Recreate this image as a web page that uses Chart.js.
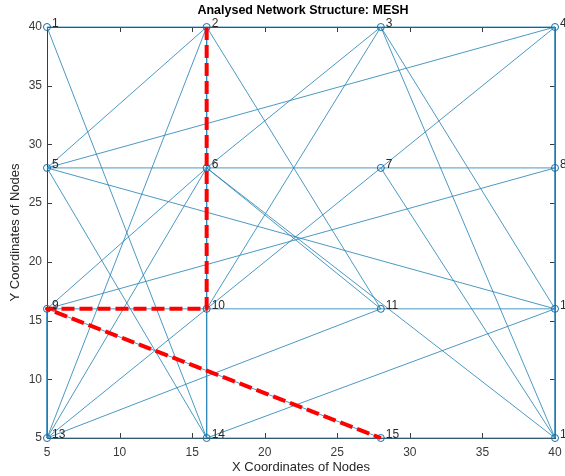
<!DOCTYPE html>
<html>
<head>
<meta charset="utf-8">
<script src="https://cdn.jsdelivr.net/npm/chart.js@4"></script>
<style>
  html, body { margin: 0; padding: 0; background: #ffffff; }
  #wrap { width: 565px; height: 476px; position: relative; }
</style>
</head>
<body>
<div id="wrap"><canvas id="c" width="565" height="476"></canvas></div>
<script>
// Node layout of the 4x4 mesh (x, y coordinates)
const nodeNames = ['1','2','3','4','5','6','7','8','9','10','11','12','13','14','15','16'];
const nodeX = [5, 16, 28, 40, 5, 16, 28, 40, 5, 16, 28, 40, 5, 16, 28, 40];
const nodeY = [40, 40, 40, 40, 28, 28, 28, 28, 16, 16, 16, 16, 5, 5, 5, 5];

// Links between nodes (1-based node numbers)
const edgeFrom = [1, 2, 3, 5, 6, 7, 9, 10, 11, 13, 14, 15, 4, 8, 12, 9, 2, 6, 10,
                  1, 2, 2, 2, 3, 3, 3, 3, 4, 4, 7, 10, 5, 5, 6, 6, 6, 6, 7, 9, 13, 14, 9];
const edgeTo   = [2, 3, 4, 6, 7, 8, 10, 11, 12, 14, 15, 16, 8, 12, 16, 13, 6, 10, 14,
                  14, 5, 13, 11, 6, 10, 12, 16, 5, 7, 10, 13, 12, 14, 9, 13, 11, 16, 16, 8, 11, 12, 15];

// Highlighted route through the network
const routeNodes = [2, 6, 10, 9, 15];

// Axis ticks
const xTicks = [5, 10, 15, 20, 25, 30, 35, 40];
const yTicks = [5, 10, 15, 20, 25, 30, 35, 40];

const FONT = "'Liberation Sans', Arial, Helvetica, sans-serif";
const EDGE_COLOR = 'rgba(45, 135, 185, 0.85)';
const AXIS_COLOR = '#3a3a3a';

const pt = n => ({ x: nodeX[n - 1], y: nodeY[n - 1] });

const edgeSets = edgeFrom.map((a, i) => ({
  type: 'line',
  data: [pt(a), pt(edgeTo[i])],
  borderColor: EDGE_COLOR,
  borderWidth: 1,
  pointRadius: 0,
  fill: false,
  clip: false,
  order: 3
}));

const nodeSet = {
  type: 'scatter',
  data: nodeX.map((x, i) => ({ x, y: nodeY[i] })),
  pointStyle: 'circle',
  pointRadius: 3.5,
  borderColor: 'rgba(20, 110, 170, 1)',
  backgroundColor: 'rgba(255,255,255,0)',
  pointBorderWidth: 1,
  clip: false,
  order: 2
};

const routeSet = {
  type: 'line',
  data: routeNodes.map(pt),
  borderColor: '#ff0000',
  borderWidth: 4,
  borderDash: [13, 5],
  borderJoinStyle: 'round',
  pointRadius: 0,
  fill: false,
  clip: false,
  order: 1
};

// Axes box with inward tick marks, drawn under the network
const boxPlugin = {
  id: 'box',
  beforeDatasetsDraw(chart) {
    const { ctx, chartArea: a, scales } = chart;
    ctx.save();
    ctx.strokeStyle = AXIS_COLOR;
    ctx.lineWidth = 1;
    ctx.strokeRect(a.left + 0.5, a.top + 0.5, a.right - a.left, a.bottom - a.top);
    const L = 5;
    ctx.beginPath();
    xTicks.forEach(v => {
      const px = Math.round(scales.x.getPixelForValue(v)) + 0.5;
      ctx.moveTo(px, a.bottom); ctx.lineTo(px, a.bottom - L);
      ctx.moveTo(px, a.top); ctx.lineTo(px, a.top + L);
    });
    yTicks.forEach(v => {
      const py = Math.round(scales.y.getPixelForValue(v)) + 0.5;
      ctx.moveTo(a.left, py); ctx.lineTo(a.left + L, py);
      ctx.moveTo(a.right, py); ctx.lineTo(a.right - L, py);
    });
    ctx.stroke();
    ctx.restore();
  },
  afterDraw(chart) {
    const { ctx, chartArea: a, scales } = chart;
    ctx.save();
    // node numbers
    ctx.fillStyle = '#2a2a2a';
    ctx.font = '12px ' + FONT;
    ctx.textAlign = 'left';
    ctx.textBaseline = 'middle';
    nodeNames.forEach((name, i) => {
      const px = scales.x.getPixelForValue(nodeX[i]);
      const py = scales.y.getPixelForValue(nodeY[i]);
      ctx.fillText(name, px + 5, py - 3);
    });
    // title
    const cx = (a.left + a.right) / 2;
    ctx.fillStyle = '#000000';
    ctx.font = 'bold 12.5px ' + FONT;
    ctx.textAlign = 'center';
    ctx.fillText('Analysed Network Structure: MESH', cx + 2, 11);
    // axis titles
    ctx.fillStyle = '#262626';
    ctx.font = '13px ' + FONT;
    ctx.fillText('X Coordinates of Nodes', cx, 467);
    ctx.translate(15, (a.top + a.bottom) / 2);
    ctx.rotate(-Math.PI / 2);
    ctx.fillText('Y Coordinates of Nodes', 0, 0);
    ctx.restore();
  }
};

new Chart(document.getElementById('c'), {
  type: 'scatter',
  data: { datasets: [routeSet, nodeSet, ...edgeSets] },
  options: {
    responsive: false,
    animation: false,
    layout: { padding: { left: 0, top: 27, right: 10, bottom: 0 } },
    plugins: { legend: { display: false }, tooltip: { enabled: false }, title: { display: false } },
    scales: {
      x: {
        type: 'linear', min: 5, max: 40,
        afterBuildTicks: s => { s.ticks = xTicks.map(v => ({ value: v })); },
        afterFit: s => { s.height = 38; s.paddingLeft = 0; s.paddingRight = 0; },
        grid: { display: false, drawTicks: false },
        border: { display: false },
        ticks: { color: '#3a3a3a', font: { family: FONT, size: 12 }, padding: 7, maxRotation: 0 }
      },
      y: {
        type: 'linear', min: 5, max: 40,
        afterBuildTicks: s => { s.ticks = yTicks.map(v => ({ value: v })); },
        afterFit: s => { s.width = 47; s.paddingTop = 0; s.paddingBottom = 0; },
        grid: { display: false, drawTicks: false },
        border: { display: false },
        ticks: { color: '#3a3a3a', font: { family: FONT, size: 12 }, padding: 5 }
      }
    }
  },
  plugins: [boxPlugin]
});
</script>
</body>
</html>
